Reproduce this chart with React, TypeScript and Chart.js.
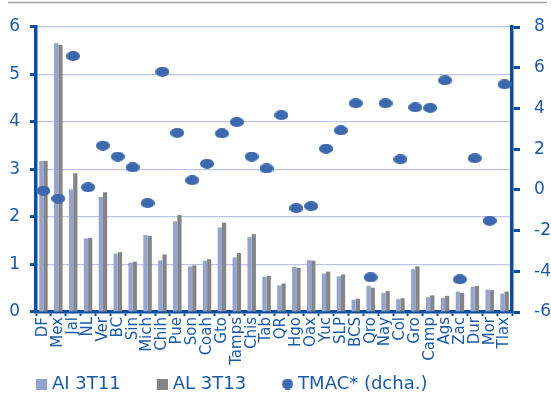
import React, { useEffect, useRef } from "react";
import { Chart, registerables } from "chart.js";

Chart.register(...registerables);

const categories = [
  "DF", "Mex", "Jal", "NL", "Ver", "BC", "Sin", "Mich", "Chih", "Pue", "Son",
  "Coah", "Gto", "Tamps", "Chis", "Tab", "QR", "Hgo", "Oax", "Yuc", "SLP",
  "BCS", "Qro", "Nay", "Col", "Gro", "Camp", "Ags", "Zac", "Dur", "Mor", "Tlax",
];

const seriesAI3T11 = [
  3.18, 5.66, 2.58, 1.55, 2.42, 1.23, 1.04, 1.62, 1.09, 1.91, 0.96,
  1.08, 1.78, 1.15, 1.58, 0.74, 0.56, 0.95, 1.09, 0.81, 0.75,
  0.26, 0.55, 0.40, 0.27, 0.90, 0.31, 0.30, 0.43, 0.53, 0.47, 0.39,
];

const seriesAL3T13 = [
  3.18, 5.62, 2.92, 1.56, 2.52, 1.26, 1.06, 1.60, 1.21, 2.04, 0.98,
  1.11, 1.88, 1.24, 1.64, 0.76, 0.60, 0.93, 1.08, 0.85, 0.79,
  0.28, 0.51, 0.44, 0.29, 0.96, 0.35, 0.34, 0.40, 0.55, 0.46, 0.43,
];

const seriesTMAC = [
  -0.05, -0.43, 6.57, 0.12, 2.17, 1.63, 1.1, -0.65, 5.8, 2.8, 0.47,
  1.28, 2.77, 3.33, 1.63, 1.05, 3.67, -0.9, -0.8, 2.02, 2.92,
  4.25, -4.3, 4.25, 1.5, 4.05, 4.03, 5.38, -4.4, 1.55, -1.52, 5.18,
];

const seriesNames = ["AI 3T11", "AL 3T13", "TMAC* (dcha.)"];

const leftAxisRange = [0, 6, 1];
const rightAxisRange = [-6, 8, 2];

const COLOR_AI = "#95a3cf";
const COLOR_AL = "#858585";
const COLOR_TMAC = "#3c68ad";
const COLOR_AXIS = "#0b4f9c";
const COLOR_TEXT = "#1b5aa6";
const COLOR_GRID = "#bcc5e6";
const FONT = "'DejaVu Sans', 'Noto Sans', sans-serif";

function makeEllipse(w: number, h: number, color: string) {
  const c = document.createElement("canvas");
  c.width = w;
  c.height = h;
  const x = c.getContext("2d")!;
  x.fillStyle = color;
  x.beginPath();
  x.ellipse(w / 2, h / 2, w / 2, h / 2, 0, 0, Math.PI * 2);
  x.fill();
  return c;
}

// legend icon: 11x11 shape placed at the right part of a wider transparent canvas
function makeIcon(kind: "square" | "circle", color: string) {
  const c = document.createElement("canvas");
  c.width = 15;
  c.height = 11;
  const x = c.getContext("2d")!;
  x.fillStyle = color;
  if (kind === "square") {
    x.fillRect(4, 0, 11, 11);
  } else {
    x.beginPath();
    x.arc(9.5, 5.5, 5.5, 0, Math.PI * 2);
    x.fill();
  }
  return c;
}

const topLinePlugin = {
  id: "topLine",
  afterLayout(chart: any) {
    const lg = chart.legend;
    if (lg) {
      const h = lg.height;
      lg.top = chart.chartArea.bottom + 27;
      lg.bottom = lg.top + h;
    }
  },
  beforeDraw(chart: any) {
    const ctx = chart.ctx;
    ctx.save();
    ctx.strokeStyle = "#a3a3a3";
    ctx.lineWidth = 1.5;
    ctx.beginPath();
    ctx.moveTo(8, 2.5);
    ctx.lineTo(547, 2.5);
    ctx.stroke();
    ctx.restore();
  },
};

export default function App() {
  const ref = useRef<HTMLCanvasElement | null>(null);

  useEffect(() => {
    if (!ref.current) return;
    const pointImg = makeEllipse(14, 10, COLOR_TMAC);
    const legendIcons = [
      makeIcon("square", COLOR_AI),
      makeIcon("square", COLOR_AL),
      makeIcon("circle", COLOR_TMAC),
    ];

    const chart = new Chart(ref.current, {
      type: "bar",
      data: {
        labels: categories,
        datasets: [
          {
            type: "bar",
            label: seriesNames[0],
            data: seriesAI3T11,
            backgroundColor: COLOR_AI,
            yAxisID: "y",
            order: 1,
            barPercentage: 1,
            categoryPercentage: 0.57,
          },
          {
            type: "bar",
            label: seriesNames[1],
            data: seriesAL3T13,
            backgroundColor: COLOR_AL,
            yAxisID: "y",
            order: 1,
            barPercentage: 1,
            categoryPercentage: 0.57,
          },
          {
            type: "line",
            label: seriesNames[2],
            data: seriesTMAC,
            yAxisID: "y2",
            showLine: false,
            pointStyle: pointImg as any,
            backgroundColor: COLOR_TMAC,
            borderColor: COLOR_TMAC,
            order: 0,
          } as any,
        ],
      },
      options: {
        responsive: false,
        animation: false,
        events: [],
        layout: { padding: { top: 27, bottom: -6, left: 0, right: 0 } },
        plugins: {
          tooltip: { enabled: false },
          legend: {
            position: "bottom",
            align: "start",
            labels: {
              usePointStyle: true,
              boxWidth: 7,
              boxHeight: 11,
              padding: 36,
              color: COLOR_TEXT,
              font: { family: FONT, size: 18 },
              generateLabels: (ch: any) => {
                const items = (Chart.defaults.plugins.legend.labels as any).generateLabels(ch);
                items.sort((a: any, b: any) => a.datasetIndex - b.datasetIndex);
                items.forEach((it: any) => {
                  it.pointStyle = legendIcons[it.datasetIndex];
                  it.fontColor = COLOR_TEXT;
                });
                return items;
              },
            },
          },
        },
        scales: {
          x: {
            offset: true,
            grid: {
              offset: true,
              drawOnChartArea: false,
              tickLength: 4,
              tickColor: COLOR_AXIS,
              tickWidth: 2,
            },
            border: { color: COLOR_AXIS, width: 3.5 },
            ticks: {
              color: COLOR_TEXT,
              font: { family: FONT, size: 15 },
              minRotation: 90,
              maxRotation: 90,
              autoSkip: false,
              padding: 1,
            },
            afterFit: (s: any) => {
              s.height = 26;
              s._computeLabelArea = () => null;
            },
          },
          y: {
            position: "left",
            min: leftAxisRange[0],
            max: leftAxisRange[1],
            ticks: {
              stepSize: leftAxisRange[2],
              color: COLOR_TEXT,
              font: { family: FONT, size: 17 },
              padding: 10,
            },
            grid: {
              color: COLOR_GRID,
              lineWidth: 1.2,
              tickColor: COLOR_AXIS,
              tickLength: 6,
              tickWidth: 3,
            },
            border: { color: COLOR_AXIS, width: 3.5 },
            afterFit: (s: any) => {
              s.width = 36;
            },
          },
          y2: {
            position: "right",
            min: rightAxisRange[0],
            max: rightAxisRange[1],
            ticks: {
              stepSize: rightAxisRange[2],
              color: COLOR_TEXT,
              font: { family: FONT, size: 17 },
              padding: 14,
            },
            grid: {
              drawOnChartArea: false,
              tickColor: COLOR_AXIS,
              tickLength: 8,
              tickWidth: 3,
            },
            border: { color: COLOR_AXIS, width: 3.5 },
            afterFit: (s: any) => {
              s.width = 39;
            },
          },
        },
      } as any,
      plugins: [topLinePlugin],
    });
    return () => chart.destroy();
  }, []);

  return (
    <div style={{ position: "absolute", left: 0, top: 0, width: 551, height: 396 }}>
      <canvas ref={ref} width={551} height={396} style={{ display: "block" }} />
    </div>
  );
}
